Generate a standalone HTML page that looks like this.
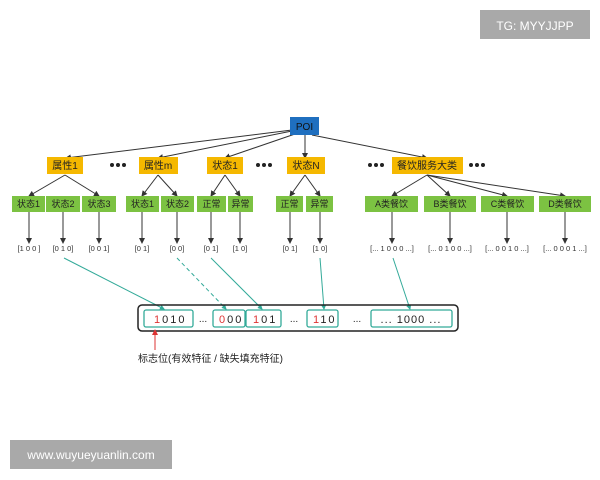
<!DOCTYPE html><html><head><meta charset="utf-8"><style>body{margin:0;background:#fff}svg{display:block}text{font-family:"Liberation Sans","Noto Sans CJK SC",sans-serif}</style></head><body>
<svg width="600" height="480" viewBox="0 0 600 480" xmlns="http://www.w3.org/2000/svg">
<defs><marker id="a" markerWidth="6" markerHeight="6" refX="5" refY="3" orient="auto"><path d="M0,0L6,3L0,6z" fill="#333"/></marker>
<marker id="g" markerWidth="5" markerHeight="5" refX="4" refY="2.5" orient="auto"><path d="M0,0L5,2.5L0,5z" fill="#3a9"/></marker>
<marker id="r" markerWidth="6" markerHeight="6" refX="5" refY="3" orient="auto"><path d="M0,0L6,3L0,6z" fill="#d33"/></marker></defs>
<rect x="480" y="10" width="110" height="29" fill="#a9a9a9"/><text x="535" y="30" font-size="12" fill="#fff" text-anchor="middle">TG: MYYJJPP</text>
<rect x="10" y="440" width="162" height="29" fill="#a9a9a9"/><text x="91" y="459" font-size="12" fill="#fff" text-anchor="middle">www.wuyueyuanlin.com</text>
<g stroke="#333" stroke-width="1" marker-end="url(#a)" fill="none">
<line x1="292" y1="130" x2="66" y2="158"/><line x1="292" y1="131" x2="158" y2="158"/><line x1="295" y1="134" x2="225" y2="158"/><line x1="305" y1="135" x2="305" y2="158"/><line x1="312" y1="135" x2="427" y2="158"/>
<line x1="65" y1="175" x2="29" y2="196"/><line x1="65" y1="175" x2="99" y2="196"/>
<line x1="158" y1="175" x2="142" y2="196"/><line x1="158" y1="175" x2="177" y2="196"/>
<line x1="225" y1="175" x2="211" y2="196"/><line x1="225" y1="175" x2="240" y2="196"/>
<line x1="305" y1="175" x2="290" y2="196"/><line x1="305" y1="175" x2="320" y2="196"/>
<line x1="427" y1="175" x2="392" y2="196"/><line x1="427" y1="175" x2="450" y2="196"/><line x1="427" y1="175" x2="507" y2="196"/><line x1="427" y1="175" x2="565" y2="196"/>
</g>
<g stroke="#333" marker-end="url(#a)">
<line x1="29" y1="212" x2="29" y2="243"/><line x1="63" y1="212" x2="63" y2="243"/><line x1="99" y1="212" x2="99" y2="243"/>
<line x1="142" y1="212" x2="142" y2="243"/><line x1="177" y1="212" x2="177" y2="243"/><line x1="211" y1="212" x2="211" y2="243"/><line x1="240" y1="212" x2="240" y2="243"/>
<line x1="290" y1="212" x2="290" y2="243"/><line x1="320" y1="212" x2="320" y2="243"/>
<line x1="392" y1="212" x2="392" y2="243"/><line x1="450" y1="212" x2="450" y2="243"/><line x1="507" y1="212" x2="507" y2="243"/><line x1="565" y1="212" x2="565" y2="243"/>
</g>
<rect x="290" y="117" width="29" height="18" fill="#1f6fbf"/><text x="304.5" y="130" font-size="10" text-anchor="middle" fill="#111">POI</text>
<g fill="#f5b800"><rect x="47" y="157" width="36" height="17"/><rect x="139" y="157" width="39" height="17"/><rect x="207" y="157" width="36" height="17"/><rect x="287" y="157" width="38" height="17"/><rect x="392" y="157" width="71" height="17"/></g>
<g font-size="10" text-anchor="middle" fill="#222"><text x="65" y="169">属性1</text><text x="158" y="169">属性m</text><text x="225" y="169">状态1</text><text x="306" y="169">状态N</text><text x="427" y="169">餐饮服务大类</text></g>
<g fill="#222"><circle cx="112" cy="165" r="2"/><circle cx="118" cy="165" r="2"/><circle cx="124" cy="165" r="2"/><circle cx="258" cy="165" r="2"/><circle cx="264" cy="165" r="2"/><circle cx="270" cy="165" r="2"/><circle cx="370" cy="165" r="2"/><circle cx="376" cy="165" r="2"/><circle cx="382" cy="165" r="2"/><circle cx="471" cy="165" r="2"/><circle cx="477" cy="165" r="2"/><circle cx="483" cy="165" r="2"/></g>
<g fill="#7cc242"><rect x="12" y="196" width="33" height="16"/><rect x="46" y="196" width="34" height="16"/><rect x="82" y="196" width="34" height="16"/><rect x="126" y="196" width="33" height="16"/><rect x="161" y="196" width="33" height="16"/><rect x="197" y="196" width="29" height="16"/><rect x="228" y="196" width="25" height="16"/><rect x="276" y="196" width="27" height="16"/><rect x="306" y="196" width="27" height="16"/><rect x="365" y="196" width="53" height="16"/><rect x="424" y="196" width="52" height="16"/><rect x="481" y="196" width="53" height="16"/><rect x="539" y="196" width="52" height="16"/></g>
<g font-size="9" text-anchor="middle" fill="#222"><text x="28.5" y="207">状态1</text><text x="63" y="207">状态2</text><text x="99" y="207">状态3</text><text x="142.5" y="207">状态1</text><text x="177.5" y="207">状态2</text><text x="211.5" y="207">正常</text><text x="240.5" y="207">异常</text><text x="289.5" y="207">正常</text><text x="319.5" y="207">异常</text><text x="391.5" y="207">A类餐饮</text><text x="450" y="207">B类餐饮</text><text x="507.5" y="207">C类餐饮</text><text x="565" y="207">D类餐饮</text></g>
<g font-size="7.5" text-anchor="middle" fill="#333"><text x="29" y="251">[1 0 0 ]</text><text x="63" y="251">[0 1 0]</text><text x="99" y="251">[0 0 1]</text><text x="142" y="251">[0 1]</text><text x="177" y="251">[0 0]</text><text x="211" y="251">[0 1]</text><text x="240" y="251">[1 0]</text><text x="290" y="251">[0 1]</text><text x="320" y="251">[1 0]</text><text x="392" y="251">[... 1 0 0 0 ...]</text><text x="450" y="251">[... 0 1 0 0 ...]</text><text x="507" y="251">[... 0 0 1 0 ...]</text><text x="565" y="251">[... 0 0 0 1 ...]</text></g>
<g stroke="#3a9" fill="none" marker-end="url(#g)"><line x1="64" y1="258" x2="164" y2="309"/><line x1="177" y1="258" x2="226" y2="309" stroke-dasharray="4,3"/><line x1="211" y1="258" x2="262" y2="309"/><line x1="320" y1="258" x2="324" y2="309"/><line x1="393" y1="258" x2="410" y2="309"/></g>
<rect x="138" y="305" width="320" height="26" rx="4" fill="none" stroke="#222" stroke-width="1.5"/>
<g fill="none" stroke="#3a9" stroke-width="1.3"><rect x="144" y="310" width="49" height="17" rx="2"/><rect x="213" y="310" width="32" height="17" rx="2"/><rect x="246" y="310" width="35" height="17" rx="2"/><rect x="307" y="310" width="31" height="17" rx="2"/><rect x="371" y="310" width="81" height="17" rx="2"/></g>
<g font-size="11" fill="#222" letter-spacing="2"><text x="154" y="323"><tspan fill="#d33">1</tspan>010</text><text x="219" y="323"><tspan fill="#d33">0</tspan>00</text><text x="253" y="323"><tspan fill="#d33">1</tspan>01</text><text x="313" y="323"><tspan fill="#d33">1</tspan>10</text></g>
<text x="411" y="323" font-size="11" fill="#222" text-anchor="middle" letter-spacing="1">... 1000 ...</text>
<g font-size="10" fill="#222" text-anchor="middle"><text x="203" y="322">...</text><text x="294" y="322">...</text><text x="357" y="322">...</text></g>
<line x1="155" y1="350" x2="155" y2="330" stroke="#d33" marker-end="url(#r)"/>
<text x="138" y="362" font-size="10" fill="#222">标志位(有效特征 / 缺失填充特征)</text>
</svg></body></html>
